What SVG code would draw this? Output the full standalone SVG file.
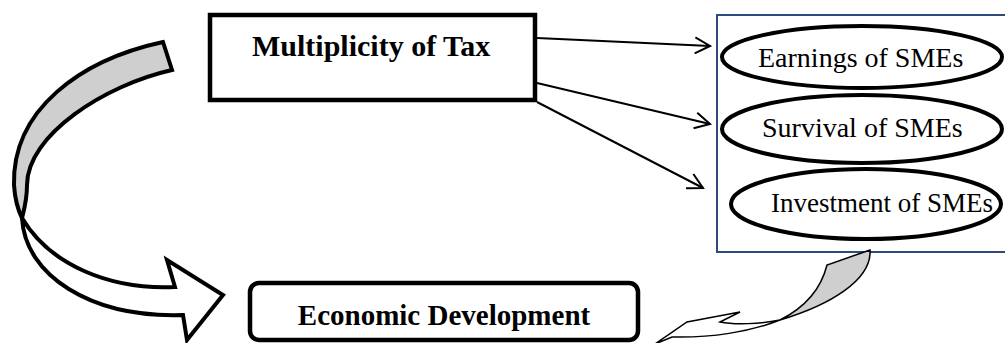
<svg xmlns="http://www.w3.org/2000/svg" width="1005" height="343" viewBox="0 0 1005 343">
  <defs>
    <style>
      .box { fill: #ffffff; stroke: #000000; stroke-width: 4.5; }
      .oval { fill: #ffffff; stroke: #000000; stroke-width: 4; }
      .frame { fill: none; stroke: #2e4b7c; stroke-width: 2; }
      .link { fill: none; stroke: #000000; stroke-width: 2; }
      .bold { font-family: "Liberation Serif", "Times New Roman", serif; font-weight: bold; fill: #000000; }
      .plain { font-family: "Liberation Serif", "Times New Roman", serif; fill: #000000; }
      .band { stroke: #000000; stroke-linejoin: miter; }
    </style>
    <marker id="open-head" markerUnits="userSpaceOnUse" markerWidth="18" markerHeight="18" viewBox="0 0 18 18" refX="16" refY="9" orient="auto">
      <path d="M1,1 L16,9 L1,17" fill="none" stroke="#000000" stroke-width="2"/>
    </marker>
  </defs>

  <rect width="1005" height="343" fill="#ffffff"/>

  <!-- large curved arrow on the left, twisted band -->
  <g id="loop-arrow">
    <path class="band" fill="#cfcfcf" stroke-width="4"
          d="M163,42 C80,60 12,110 14,185 C15,200 18,210 22,218 C24,210 27,200 27,185 C27,135 105,85 172,70 Z"/>
    <path class="band" fill="#ffffff" stroke-width="4"
          d="M22,218 C50,265 110,290 175,287 L167,260 L223,295 L187,340 L183,315 C90,318 25,275 22,218 Z"/>
  </g>

  <!-- source node -->
  <g id="node-tax">
    <rect class="box" x="210" y="15" width="325" height="85"/>
    <text class="bold" x="252" y="56" font-size="30">Multiplicity of Tax</text>
  </g>

  <!-- outcome panel -->
  <g id="node-outcomes">
    <rect class="frame" x="717" y="15" width="292" height="237"/>
    <g id="node-earnings">
      <ellipse class="oval" cx="862" cy="57" rx="140" ry="31"/>
      <text class="plain" x="758" y="67" font-size="28">Earnings of SMEs</text>
    </g>
    <g id="node-survival">
      <ellipse class="oval" cx="862" cy="129" rx="140" ry="34"/>
      <text class="plain" x="762" y="137" font-size="28">Survival of SMEs</text>
    </g>
    <g id="node-investment">
      <ellipse class="oval" cx="866" cy="204" rx="135" ry="35"/>
      <text class="plain" x="771" y="212" font-size="27">Investment of SMEs</text>
    </g>
  </g>

  <!-- target node -->
  <g id="node-development">
    <rect class="box" x="250" y="283" width="388" height="57" rx="9" ry="9"/>
    <text class="bold" x="444" y="325" font-size="29" text-anchor="middle">Economic Development</text>
  </g>

  <!-- connectors -->
  <g id="connectors">
    <line class="link" x1="537" y1="38" x2="710" y2="46" marker-end="url(#open-head)"/>
    <line class="link" x1="537" y1="83" x2="710" y2="124" marker-end="url(#open-head)"/>
    <line class="link" x1="537" y1="102" x2="703" y2="188" marker-end="url(#open-head)"/>
    <!-- curved return arrow under the outcome panel -->
    <g id="return-arrow">
      <path class="band" fill="#cfcfcf" stroke-width="1.5"
            d="M870,250 L827,265 C822,285 810,305 780,320 C830,305 872,280 870,250 Z"/>
      <path class="band" fill="#ffffff" stroke-width="1.5"
            d="M780,320 C760,324 735,325 720,322 L740,312 L687,322 L655,344 L672,337 C710,338 750,332 780,320 Z"/>
    </g>
  </g>
</svg>
